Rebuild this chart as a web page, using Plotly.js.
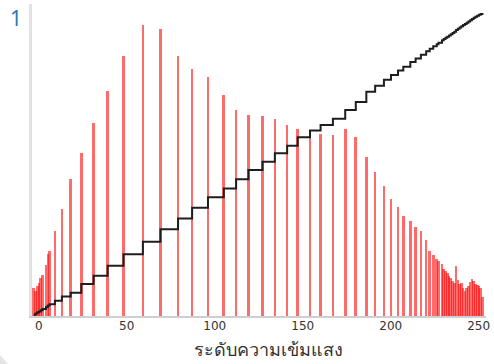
<!DOCTYPE html>
<html>
<head>
<meta charset="utf-8">
<script src="https://cdn.plot.ly/plotly-3.0.1.min.js"></script>
<style>html,body{margin:0;padding:0;background:#fff;}#chart{width:494px;height:364px;}</style>
</head>
<body>
<div id="chart"></div>
<script>
// Gray levels that have pixels
const levels = [0,1,2,3,4,5,7,8,9,12,16,21,27,34,42,51,62,72,82,90,99,108,115,122,130,137,144,150,157,163,170,177,183,189,194,199,203,207,210,214,217,220,223,225,227,229,230,232,233,234,235,236,237,238,239,240,241,242,243,244,245,246,247,248,249,250,251,252,253,254,255];
// Pixel counts per level (histogram)
const counts = [280,250,300,330,380,410,510,620,650,850,1070,1370,1630,1930,2250,2600,2910,2870,2600,2470,2390,2210,2060,2010,2000,1970,1910,1870,1810,1820,1810,1870,1790,1590,1440,1300,1170,1090,1000,950,890,850,760,650,610,570,550,520,470,450,430,400,380,350,330,500,360,320,330,280,250,280,300,340,370,350,320,310,300,280,190];
// Cumulative distribution (normalised) after each level
const cdf = [0.004,0.008,0.012,0.015,0.019,0.023,0.030,0.035,0.039,0.050,0.064,0.077,0.106,0.133,0.166,0.204,0.245,0.286,0.322,0.357,0.392,0.421,0.451,0.482,0.509,0.537,0.562,0.590,0.612,0.630,0.651,0.680,0.706,0.740,0.760,0.780,0.795,0.810,0.823,0.838,0.850,0.862,0.874,0.882,0.890,0.897,0.902,0.910,0.914,0.918,0.922,0.926,0.930,0.934,0.938,0.944,0.948,0.952,0.956,0.960,0.964,0.968,0.972,0.976,0.980,0.984,0.988,0.991,0.994,0.997,1.000];
const xTicks = [0,50,100,150,200,250];
const xTitle = "ระดับความเข้มแสง";
const figLabel = "1";

const traces = [
  {type:'bar', x:levels, y:counts, width:1.5, marker:{color:'rgba(255,0,0,0.58)', line:{width:0}}, yaxis:'y', hoverinfo:'skip'},
  {type:'scatter', mode:'lines', x:levels, y:cdf, yaxis:'y2', line:{shape:'hv', color:'#1e1e1e', width:2}, hoverinfo:'skip'}
];
const layout = {
  width:494, height:364,
  margin:{l:32, r:8, t:4, b:48},
  paper_bgcolor:'#ffffff', plot_bgcolor:'#ffffff',
  showlegend:false,
  bargap:0,
  xaxis:{range:[-1,257], showgrid:false, zeroline:false, showline:true, linecolor:'#cfcfcf', linewidth:2,
         tickvals:xTicks, ticktext:xTicks.map(String), ticks:'', ticklabelshift:5, ticklabelstandoff:-2,
         tickfont:{family:'DejaVu Sans', size:12, color:'#333'}},
  yaxis:{range:[0,3120], showgrid:false, zeroline:false, showline:true, linecolor:'#e2e2e2', linewidth:3, showticklabels:false, ticks:''},
  yaxis2:{range:[0,1.0297], overlaying:'y', visible:false},
  annotations:[
    {text:figLabel, xref:'paper', yref:'paper', x:-0.036, y:0.955, xanchor:'center', yanchor:'middle', showarrow:false,
     font:{family:'Noto Sans, DejaVu Sans', size:21, color:'#2a7ab8'}},
    {text:xTitle, xref:'paper', yref:'paper', x:0.522, y:-0.106, xanchor:'center', yanchor:'middle', showarrow:false,
     font:{family:'Noto Sans, DejaVu Sans', size:18, color:'#333'}}
  ],
  shapes:[{type:'path', xref:'paper', yref:'paper', path:'M -0.0705 -0.1248 L -0.0705 -0.1538 L -0.0529 -0.1538 Z', fillcolor:'#e4e4e4', line:{width:0}}]
};
Plotly.newPlot('chart', traces, layout, {displayModeBar:false, staticPlot:true});
</script>
</body>
</html>
